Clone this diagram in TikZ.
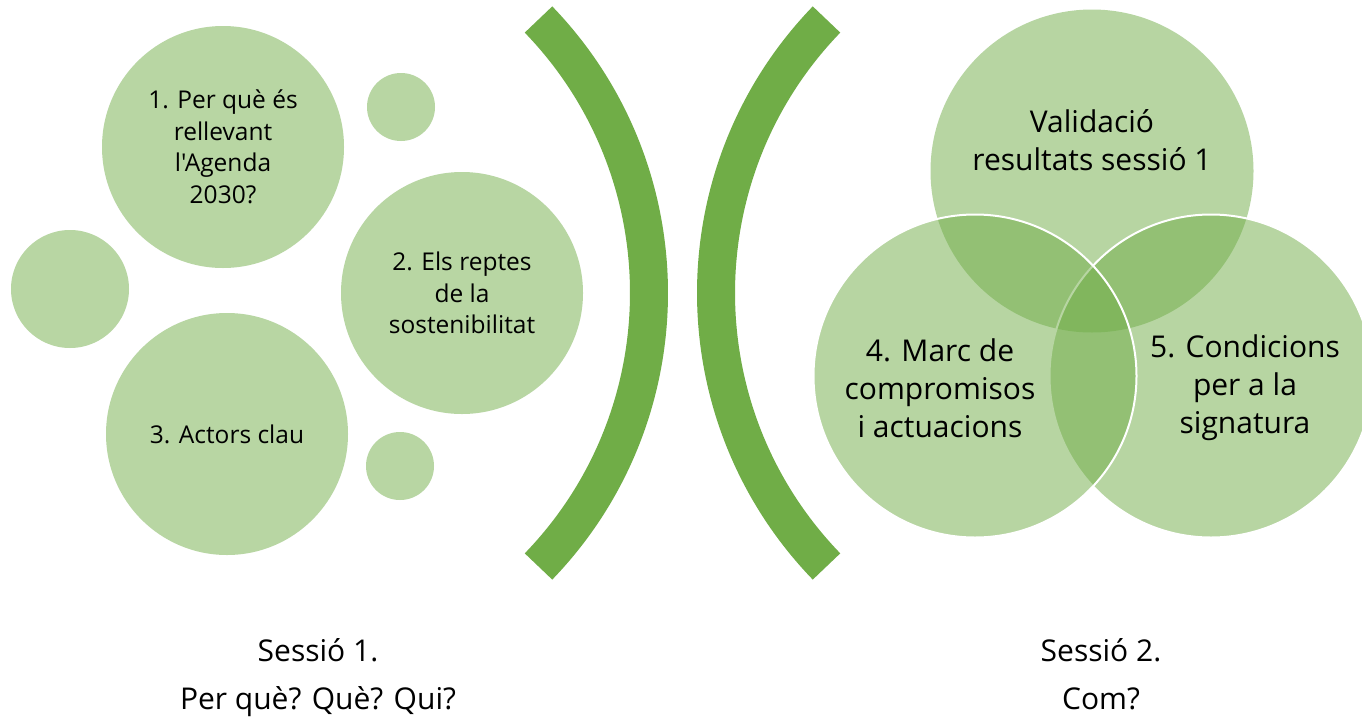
\documentclass[tikz,border=0pt]{standalone}
\usepackage{fontspec}
\setmainfont{Open Sans}[Ligatures=TeXOff]
\definecolor{gbase}{HTML}{70AD47}
\definecolor{glight}{HTML}{B8D6A3}
\tikzset{
  bubble/.style={circle, fill=glight, inner sep=0pt, align=center, text=black,
    font=\fontsize{24.5}{31.5}\selectfont},
  venn/.style={circle, fill=gbase, fill opacity=0.5, inner sep=0pt, minimum size=323pt},
  vennline/.style={venn, draw=white, line width=2pt, draw opacity=1},
  venntext/.style={align=center, text=black, inner sep=0pt, font=\fontsize{30}{38}\selectfont},
  caption/.style={anchor=base, text=black, inner sep=0pt, font=\fontsize{30}{36}\selectfont},
  brk/.style={draw=gbase, line width=38pt, line cap=butt}
}
\begin{document}
\begin{tikzpicture}[x=1pt,y=-1pt]
\clip (0,0) rectangle (1362,723);
\fill[white] (0,0) rectangle (1362,723);
% left bubbles
\node[bubble, minimum size=242pt] (b1) at (223,147) {1. Per què és\\rellevant\\l'Agenda\\2030?};
\node[bubble, minimum size=68pt] (s1) at (401,107) {};
\node[bubble, minimum size=118pt] (s2) at (70,289) {};
\node[bubble, minimum size=242pt] (b2) at (462,293) {2. Els reptes\\de la\\sostenibilitat};
\node[bubble, minimum size=242pt] (b3) at (227,434) {3. Actors clau};
\node[bubble, minimum size=68pt] (s3) at (400,466) {};
% brackets
\draw[brk] (538.5,19.5) arc[start angle=-44, end angle=44, radius=393.7];
\draw[brk] (826.5,19.5) arc[start angle=224, end angle=136, radius=393.7];
% venn
\node[venn] (v1) at (1092,171) {};
\node[vennline] (v3) at (1211,376) {};
\node[vennline] (v2) at (975,376) {};
\node[venntext] (t1) at (1092,140) {Validació\\resultats sessió 1};
\node[venntext] (t2) at (940,388) {4. Marc de\\compromisos\\i actuacions};
\node[venntext] (t3) at (1245,388) {5. Condicions\\per a la\\signatura};
% captions
\node[caption] (c1) at (318,661) {Sessió 1.};
\node[caption] (c2) at (318,709) {Per què? Què? Qui?};
\node[caption] (c3) at (1101,661) {Sessió 2.};
\node[caption] (c4) at (1101,709) {Com?};
\end{tikzpicture}
\end{document}
